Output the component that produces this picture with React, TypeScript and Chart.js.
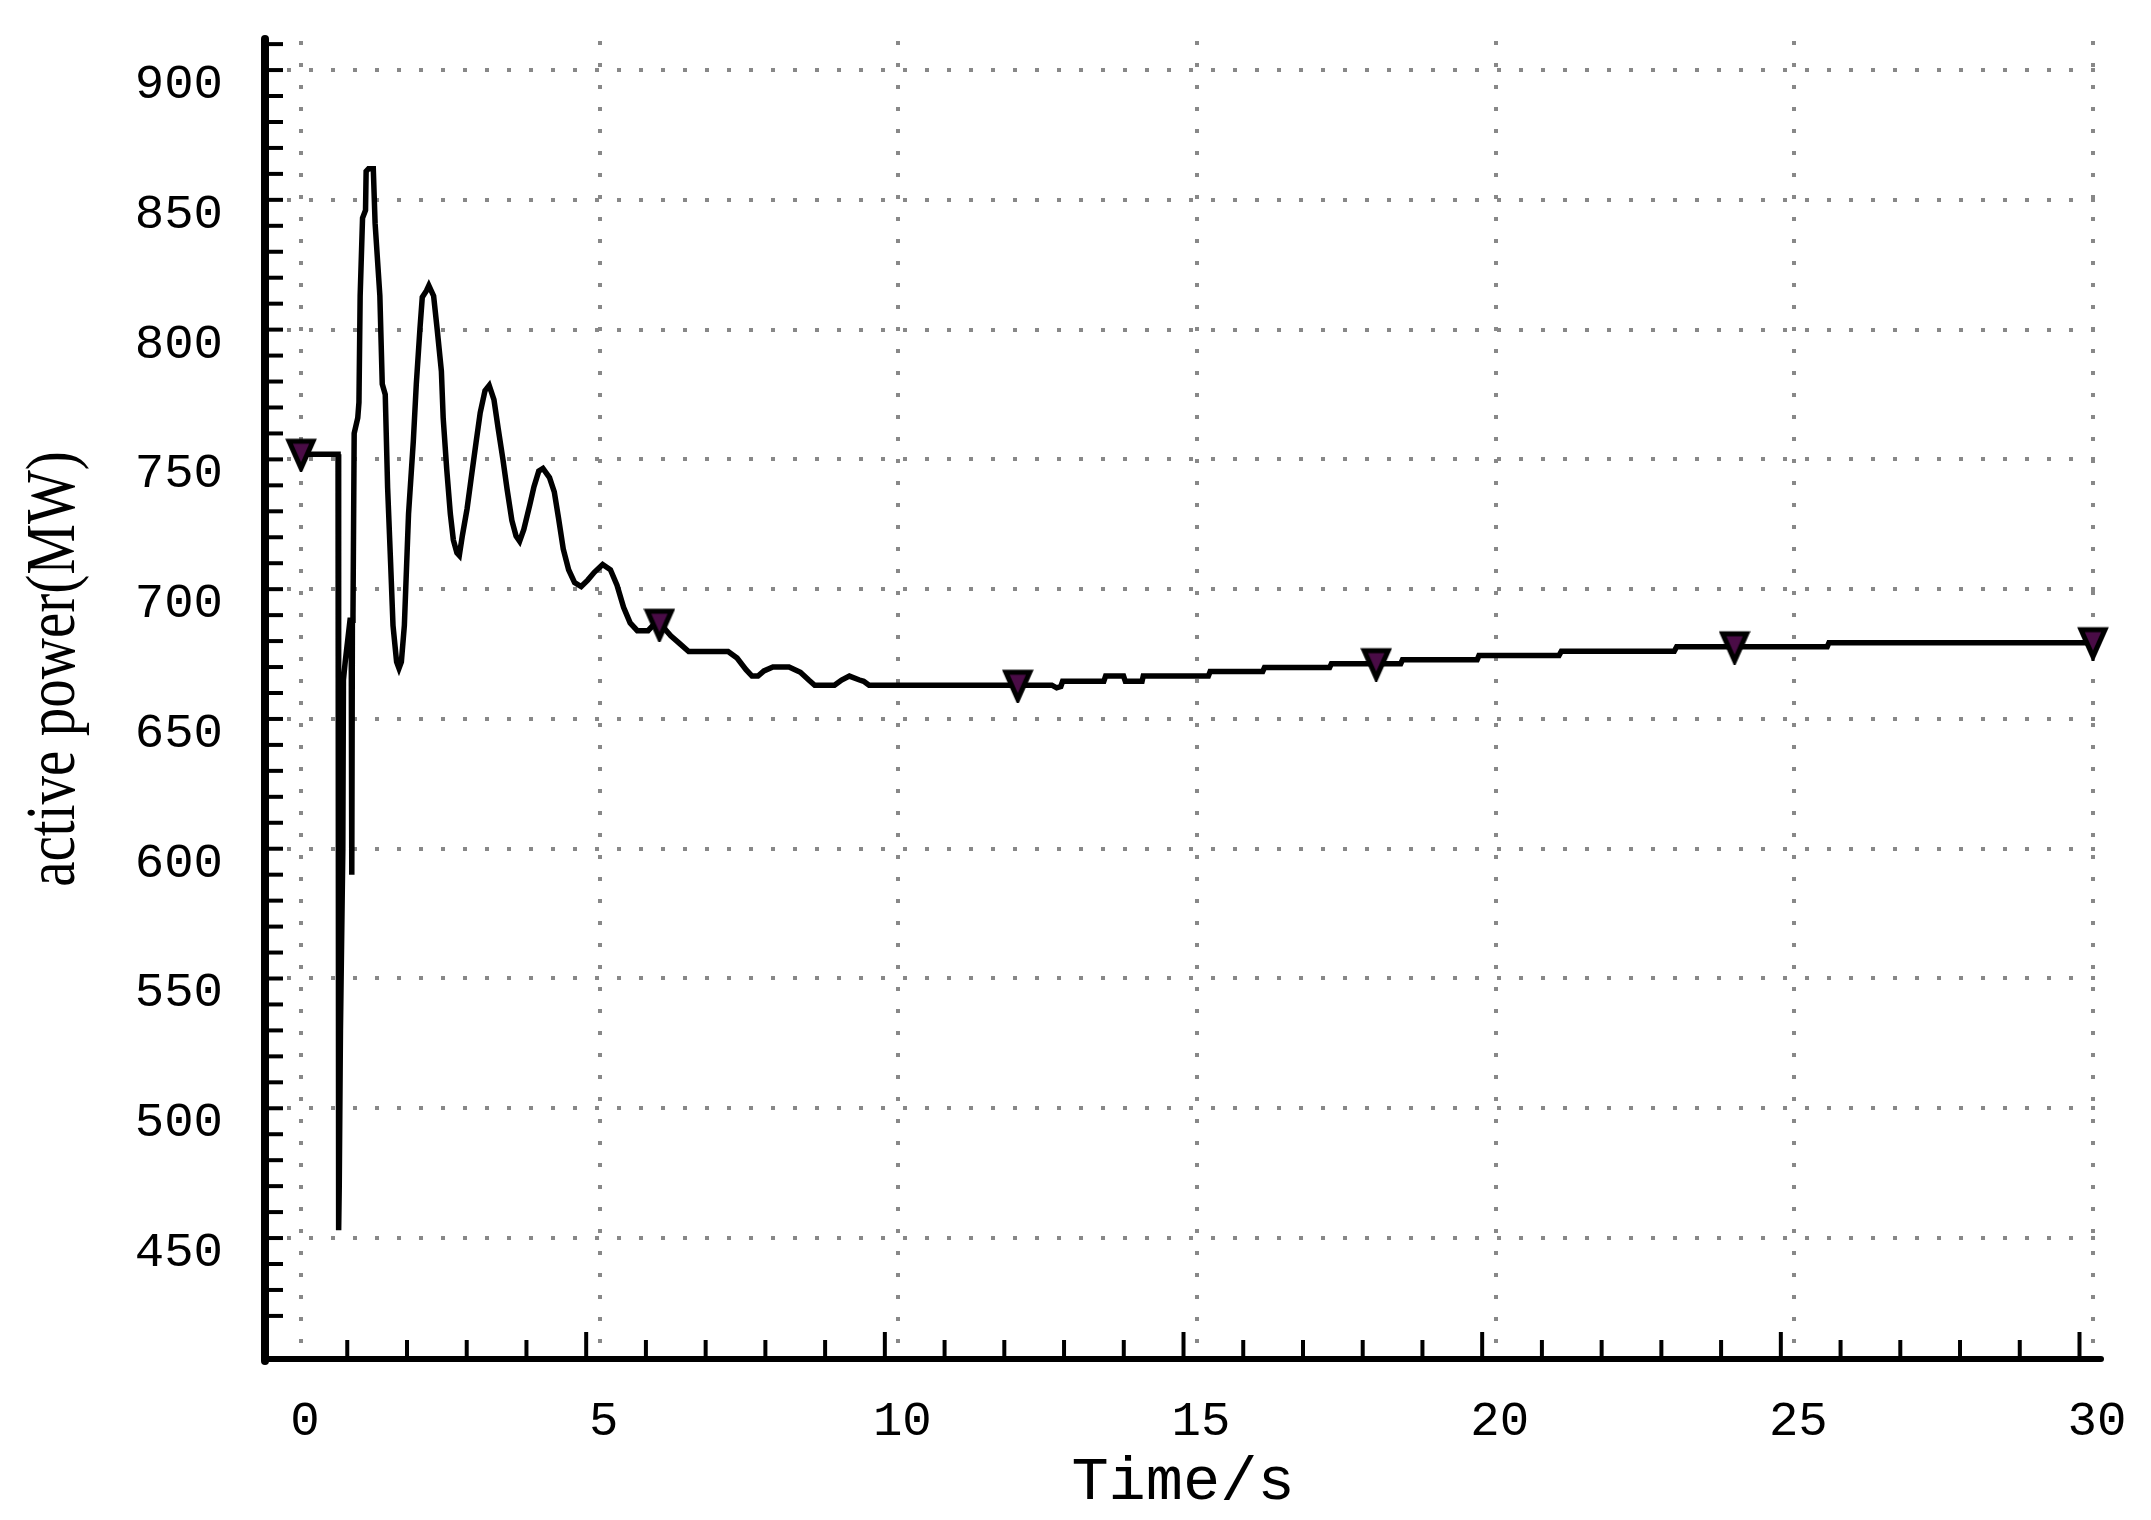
import React, { useEffect, useRef } from 'react';
import { Chart, registerables } from 'chart.js';

Chart.register(...registerables);

// ---- data (time in s, active power in MW) ----
const TIME = [
  0, 0.62, 0.63, 0.64, 0.66, 0.70, 0.71, 0.74, 0.78, 0.82,
  0.84, 0.85, 0.86, 0.87, 0.89, 0.95, 0.97, 0.99, 1.03, 1.08,
  1.09, 1.13, 1.21, 1.24, 1.32, 1.36, 1.41, 1.45, 1.50, 1.54,
  1.60, 1.64, 1.68, 1.73, 1.80, 1.88, 1.93, 1.99, 2.03, 2.10,
  2.14, 2.22, 2.28, 2.35, 2.38, 2.44, 2.50, 2.55, 2.61, 2.65,
  2.70, 2.78, 2.85, 2.93, 3.00, 3.08, 3.15, 3.23, 3.30, 3.38,
  3.45, 3.53, 3.60, 3.66, 3.73, 3.83, 3.90, 3.98, 4.05, 4.16,
  4.24, 4.31, 4.39, 4.48, 4.58, 4.69, 4.80, 4.91, 5.05, 5.18,
  5.29, 5.40, 5.51, 5.63, 5.81, 5.93, 6.04, 6.19, 6.34, 6.49,
  6.55, 7.15, 7.30, 7.45, 7.55, 7.65, 7.75, 7.90, 8.17, 8.36,
  8.50, 8.60, 8.93, 9.05, 9.18, 9.35, 9.42, 9.51, 12.57, 12.65,
  12.72, 12.75, 13.44, 13.47, 13.77, 13.80, 14.08, 14.10, 15.19, 15.22,
  16.10, 16.13, 17.22, 17.25, 18.41, 18.44, 19.69, 19.72, 21.06, 21.10,
  22.99, 23.03, 25.55, 25.58, 30,
];

const POWER = [
  752, 752, 453, 470, 530, 600, 665, 672, 680, 688,
  688, 590, 688, 690, 760, 766, 772, 813, 843, 846,
  861, 862, 862, 841, 813, 779, 775, 739, 710, 686,
  672, 669.5, 672, 686, 729, 757, 779, 800, 812.5, 815,
  817, 813, 800, 784, 766, 746, 729, 719, 714, 713,
  720.5, 731, 743, 756.5, 768, 776.5, 778.5, 773, 762, 750,
  738.5, 726.5, 720.5, 718.5, 723, 732.5, 739.5, 745.5, 746.5, 743,
  737.5, 727.5, 715.5, 707.5, 702.5, 701, 703.5, 706.5, 709.5, 707.5,
  701.5, 693, 687, 684, 684, 687, 686, 682, 679, 676,
  676, 676, 673.5, 669, 666.5, 666.5, 668.5, 670, 670, 668,
  665, 663, 663, 665, 666.5, 665, 664.5, 663, 663, 662,
  662.5, 664.5, 664.5, 666.5, 666.5, 664.5, 664.5, 666.5, 666.5, 668.3,
  668.3, 669.8, 669.8, 671.3, 671.3, 672.8, 672.8, 674.4, 674.4, 676.1,
  676.1, 677.8, 677.8, 679.4, 679.4,
];

const MARKER_TIME = [0, 6, 12, 18, 24, 30];
const MARKER_POWER = [752, 686.5, 663, 671.3, 677.8, 679.4];

const X_TICKS = [0, 5, 10, 15, 20, 25, 30];
const Y_TICKS = [450, 500, 550, 600, 650, 700, 750, 800, 850, 900];
const X_MINOR = [
  1, 2, 3, 4, 5, 6, 7, 8, 9, 10, 11, 12, 13, 14, 15,
  16, 17, 18, 19, 20, 21, 22, 23, 24, 25, 26, 27, 28, 29, 30,
];
const Y_MINOR = [
  420, 430, 440, 450, 460, 470, 480, 490, 500, 510, 520, 530, 540, 550,
  560, 570, 580, 590, 600, 610, 620, 630, 640, 650, 660, 670, 680, 690,
  700, 710, 720, 730, 740, 750, 760, 770, 780, 790, 800, 810, 820, 830,
  840, 850, 860, 870, 880, 890, 900, 910,
];

const X_TITLE = 'Time/s';
const Y_TITLE = 'active power(MW)';

const W = 2151;
const H = 1520;
const X_TICK_SHIFT = -0.226;
const MONO = '"Liberation Mono", "DejaVu Sans Mono", monospace';
const SERIF = '"Liberation Serif", "DejaVu Serif", serif';

function makeMarker(): HTMLCanvasElement {
  const c = document.createElement('canvas');
  c.width = 32;
  c.height = 36;
  const g = c.getContext('2d')!;
  g.beginPath();
  g.moveTo(4, 5);
  g.lineTo(28, 5);
  g.lineTo(16, 32);
  g.closePath();
  g.fillStyle = '#4a0c46';
  g.fill();
  g.lineWidth = 5;
  g.strokeStyle = '#000';
  g.lineJoin = 'miter';
  g.stroke();
  return c;
}

const axesPlugin = {
  id: 'refAxes',
  afterDraw(chart: any) {
    const { ctx, chartArea } = chart;
    const x = chart.scales.x;
    const y = chart.scales.y;
    ctx.save();
    ctx.strokeStyle = '#000';
    ctx.lineCap = 'butt';
    ctx.lineWidth = 4;
    Y_MINOR.forEach((v) => {
      const py = y.getPixelForValue(v);
      ctx.beginPath();
      ctx.moveTo(chartArea.left, py);
      ctx.lineTo(chartArea.left + 18, py);
      ctx.stroke();
    });
    X_MINOR.forEach((v) => {
      const px = x.getPixelForValue(v + X_TICK_SHIFT);
      const len = v % 5 === 0 ? 27 : 19;
      ctx.beginPath();
      ctx.moveTo(px, chartArea.bottom);
      ctx.lineTo(px, chartArea.bottom - len);
      ctx.stroke();
    });
    ctx.lineCap = 'round';
    ctx.lineWidth = 8;
    ctx.beginPath();
    ctx.moveTo(chartArea.left, chartArea.top - 2);
    ctx.lineTo(chartArea.left, chartArea.bottom + 2);
    ctx.stroke();
    ctx.lineWidth = 6;
    ctx.beginPath();
    ctx.moveTo(chartArea.left, chartArea.bottom);
    ctx.lineTo(chartArea.right, chartArea.bottom);
    ctx.stroke();

    // y axis title
    ctx.translate(56, 669);
    ctx.rotate(-Math.PI / 2);
    ctx.scale(0.815, 1);
    ctx.font = `70px ${SERIF}`;
    ctx.fillStyle = '#000';
    ctx.textAlign = 'center';
    ctx.textBaseline = 'middle';
    ctx.fillText(Y_TITLE, 0, 0);
    ctx.restore();
  },
};

export default function App() {
  const ref = useRef<HTMLCanvasElement>(null);

  useEffect(() => {
    const canvas = ref.current;
    if (!canvas) return;
    const marker = makeMarker();
    const gridColor = '#888888';
    const chart = new Chart(canvas, {
      type: 'line',
      data: {
        datasets: [
          {
            label: 'power',
            data: TIME.map((t, i) => ({ x: t, y: POWER[i] })),
            borderColor: '#000',
            backgroundColor: '#000',
            borderWidth: 5.5,
            pointRadius: 0,
            tension: 0,
            fill: false,
            order: 2,
          },
          {
            label: 'markers',
            data: MARKER_TIME.map((t, i) => ({ x: t, y: MARKER_POWER[i] })),
            showLine: false,
            pointStyle: marker as any,
            pointRadius: 16,
            clip: false as any,
            order: 1,
          },
        ],
      },
      options: {
        responsive: false,
        animation: false,
        events: [],
        layout: { padding: { top: 41, right: W - 2101, bottom: 0, left: 0 } },
        plugins: {
          legend: { display: false },
          tooltip: { enabled: false },
        },
        scales: {
          x: {
            type: 'linear',
            min: -0.603,
            max: 30.134,
            afterBuildTicks: (s: any) => {
              s.ticks = X_TICKS.map((v) => ({ value: v }));
            },
            afterFit: (s: any) => {
              s.height = H - 1359;
              s.paddingLeft = 0;
              s.paddingRight = 0;
              s.paddingTop = 0;
              s.paddingBottom = 0;
            },
            grid: {
              display: true,
              color: gridColor,
              lineWidth: 4,
              drawTicks: false,
            },
            border: { display: false, dash: [4, 18] },
            ticks: {
              color: '#000',
              font: { family: MONO, size: 49 },
              padding: 34,
              labelOffset: 4,
              maxRotation: 0,
              autoSkip: false,
              callback: (v: any) => String(v),
            },
            title: {
              display: true,
              text: X_TITLE,
              color: '#000',
              font: { family: MONO, size: 62 },
              padding: { top: 0, bottom: 0 },
            },
          },
          y: {
            type: 'linear',
            min: 403.4,
            max: 911.2,
            afterBuildTicks: (s: any) => {
              s.ticks = Y_TICKS.map((v) => ({ value: v }));
            },
            afterFit: (s: any) => {
              s.width = 265;
              s.paddingLeft = 0;
              s.paddingRight = 0;
              s.paddingTop = 0;
              s.paddingBottom = 0;
            },
            grid: {
              display: true,
              color: gridColor,
              lineWidth: 4,
              drawTicks: false,
            },
            border: { display: false, dash: [4, 18] },
            ticks: {
              color: '#000',
              font: { family: MONO, size: 49 },
              padding: 42,
              labelOffset: 15,
              autoSkip: false,
              callback: (v: any) => String(v),
            },
          },
        },
      },
      plugins: [axesPlugin],
    } as any);
    return () => chart.destroy();
  }, []);

  return (
    <div style={{ position: 'absolute', left: 0, top: 0, width: W, height: H, background: '#fff' }}>
      <canvas ref={ref} width={W} height={H} style={{ display: 'block', width: W, height: H }} />
    </div>
  );
}
